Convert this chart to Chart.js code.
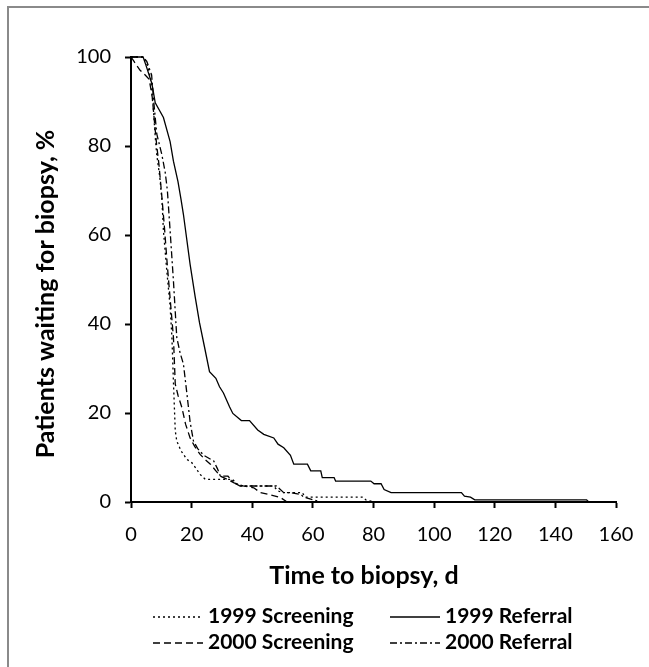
<!DOCTYPE html>
<html>
<head>
<meta charset="utf-8">
<script src="https://cdn.jsdelivr.net/npm/chart.js@4.4.1/dist/chart.umd.min.js"></script>
<style>
  html, body { margin: 0; padding: 0; background: #fff; }
  canvas { display: block; }
</style>
</head>
<body>
<canvas id="kmChart" width="649" height="667"></canvas>
<script>
/* global Chart */

// Axis ticks
const xTicks = [0, 20, 40, 60, 80, 100, 120, 140, 160];
const yTicks = [0, 20, 40, 60, 80, 100];

// 1999 Screening (dotted)
const screening1999Days = [0, 4, 5.5, 6.5, 7.2, 8, 8.5, 9.5, 10.2, 10.7, 11.8, 12.9, 13.5, 14, 14.6, 15.1, 16.5, 18.4, 20.1, 21.5, 22.8, 24.5, 33.5, 34.5, 36, 47, 48.5, 50, 56.5, 57.5, 76.5, 77.5, 80.5];
const screening1999Pct = [100, 100, 98, 95, 90, 82, 78, 73, 68, 61, 52, 44, 37, 27, 16, 13.7, 11.5, 9.6, 8.8, 7.5, 6.2, 5.1, 5.1, 4.3, 3.6, 3.6, 2.5, 2.1, 2.1, 1.1, 1.1, 0.45, 0];

// 1999 Referral (solid)
const referral1999Days = [0, 4, 5, 6.9, 8, 10.7, 12.9, 14, 15.5, 16.5, 17.3, 19.5, 21.2, 22.6, 24.2, 25.9, 28, 29.2, 30.5, 32.5, 33.6, 36.4, 39.1, 41.8, 43.8, 47.1, 48.5, 50.4, 52.6, 53.7, 58.2, 59.3, 62.6, 63.1, 67, 67.5, 79.1, 80.2, 82.5, 83.5, 85.8, 109, 110, 112, 113.4, 150.3, 151, 160];
const referral1999Pct = [100, 100, 98, 94, 89.7, 86.4, 81, 76.6, 72, 68, 64.6, 53.4, 46, 40.3, 35, 29.3, 27.8, 25.9, 24.5, 21.4, 19.9, 18.3, 18.3, 16.2, 15.2, 14.4, 13, 12.2, 10.5, 8.5, 8.5, 7, 7, 5.5, 5.5, 4.7, 4.7, 4.1, 4.1, 2.8, 2.1, 2.1, 1.3, 1.1, 0.5, 0.5, 0, 0];

// 2000 Screening (dashed)
const screening2000Days = [0, 1, 3, 4.6, 6, 7, 7.8, 8.5, 9.2, 10, 11, 12, 13, 14, 14.6, 15.5, 16.8, 18, 19.5, 21, 22.8, 24.5, 26.2, 28, 29.5, 32, 34, 37, 40.5, 42.7, 46, 49.3, 51.5];
const screening2000Pct = [100, 99, 97, 96, 95, 91, 85, 80, 76, 70, 62, 53, 45, 37, 26.5, 24, 21.2, 17.5, 14.4, 12.5, 10.7, 9.5, 8.5, 7, 5.8, 5, 4.3, 3.6, 3.2, 2.1, 1.6, 1, 0];

// 2000 Referral (dash-dot)
const referral2000Days = [0, 4, 5.2, 6.8, 7.5, 8.5, 10.2, 11.3, 12, 12.9, 14, 15.1, 16.2, 17.3, 18.5, 19.5, 20.6, 22, 24, 27.3, 28.5, 29.5, 32, 34, 36, 48, 50.4, 52.6, 56, 57, 60, 62.6];
const referral2000Pct = [100, 100, 99, 96, 90, 82.7, 78, 74, 70, 61, 49.7, 37, 33.5, 31, 24, 18, 13.7, 12, 10.5, 9.2, 7.5, 5.8, 5.8, 4.3, 3.6, 3.6, 2.1, 2.1, 1.7, 1.1, 0.5, 0];

const seriesNames = ['1999 Screening', '1999 Referral', '2000 Screening', '2000 Referral'];

const FONT = 'Lato, "Open Sans", sans-serif';

function toPoints(days, pct) {
    return days.map((d, i) => ({ x: d, y: pct[i] }));
}

function lineSet(label, days, pct, dash) {
    return {
        label: label,
        data: toPoints(days, pct),
        borderColor: '#000',
        borderWidth: 1.3,
        borderDash: dash,
        pointRadius: 0,
        tension: 0,
        fill: false,
        clip: false
    };
}

// Titles, frame and the two-column legend
const decorPlugin = {
    id: 'decor',
    afterDraw(chart) {
        const ctx = chart.ctx;
        ctx.save();

        // figure frame (top + left)
        ctx.strokeStyle = '#8a8a8a';
        ctx.lineWidth = 2;
        ctx.beginPath();
        ctx.moveTo(8, 667);
        ctx.lineTo(8, 7);
        ctx.lineTo(649, 7);
        ctx.stroke();

        ctx.fillStyle = '#000';
        ctx.font = 'bold 25px ' + FONT;
        ctx.textAlign = 'center';
        ctx.textBaseline = 'middle';
        ctx.fillText('Time to biopsy, d', 364, 576);

        ctx.save();
        ctx.translate(46, 294);
        ctx.rotate(-Math.PI / 2);
        ctx.fillText('Patients waiting for biopsy, %', 0, 0);
        ctx.restore();

        // legend
        const cols = [{ x0: 153, x1: 203, tx: 208 }, { x0: 390, x1: 440, tx: 445 }];
        const rows = [616, 642];
        ctx.font = 'bold 21px ' + FONT;
        ctx.textAlign = 'left';
        chart.data.datasets.forEach((ds, i) => {
            const c = cols[i % 2];
            const y = rows[Math.floor(i / 2)];
            ctx.setLineDash(ds.borderDash || []);
            ctx.lineWidth = 1.5;
            ctx.strokeStyle = '#000';
            ctx.beginPath();
            ctx.moveTo(c.x0, y + 1);
            ctx.lineTo(c.x1, y + 1);
            ctx.stroke();
            ctx.setLineDash([]);
            ctx.fillText(ds.label, c.tx, y);
        });
        ctx.restore();
    }
};

const axisGrid = {
    display: true,
    drawOnChartArea: false,
    drawTicks: true,
    tickLength: 6,
    tickWidth: 2,
    tickColor: '#000'
};

new Chart(document.getElementById('kmChart').getContext('2d'), {
    type: 'line',
    data: {
        datasets: [
            lineSet(seriesNames[0], screening1999Days, screening1999Pct, [2, 3]),
            lineSet(seriesNames[1], referral1999Days, referral1999Pct, []),
            lineSet(seriesNames[2], screening2000Days, screening2000Pct, [7, 4]),
            lineSet(seriesNames[3], referral2000Days, referral2000Pct, [7, 3, 2, 3])
        ]
    },
    options: {
        responsive: false,
        devicePixelRatio: 1,
        animation: false,
        layout: { padding: { left: 0, top: 57, right: 33, bottom: 120 } },
        plugins: {
            legend: { display: false },
            tooltip: { enabled: false }
        },
        scales: {
            x: {
                type: 'linear',
                min: 0,
                max: 160,
                afterBuildTicks: (s) => { s.ticks = xTicks.map(v => ({ value: v })); },
                afterFit: (s) => { s.height = 45; },
                ticks: { color: '#000', font: { family: FONT, size: 20 }, padding: 15, maxRotation: 0 },
                grid: axisGrid,
                border: { display: true, color: '#000', width: 2 }
            },
            y: {
                type: 'linear',
                min: 0,
                max: 100,
                afterBuildTicks: (s) => { s.ticks = yTicks.map(v => ({ value: v })); },
                afterFit: (s) => { s.width = 131; },
                ticks: { color: '#000', font: { family: FONT, size: 20 }, padding: 14 },
                grid: axisGrid,
                border: { display: true, color: '#000', width: 2 }
            }
        }
    },
    plugins: [decorPlugin]
});
</script>
</body>
</html>
